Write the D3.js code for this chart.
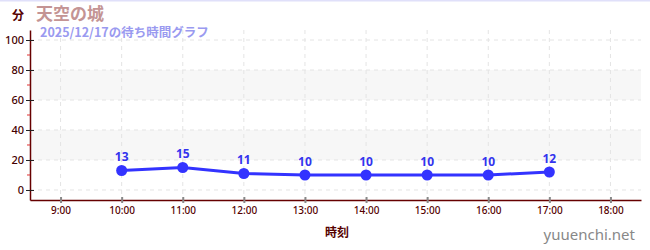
<!DOCTYPE html>
<head>
  <meta charset="utf-8">
  <style>
    body { margin: 0; background: #fff; }
    svg text { font-family: "Noto Sans CJK JP", "Noto Sans", sans-serif; }
    .grid line { stroke: #e4e4e4; stroke-dasharray: 4,4; }
  </style>
  <script src="https://d3js.org/d3.v7.min.js"></script>
</head>
<body>
<div class="home"></div>
<script>
    // wait times (minutes) by hour
    const hours = [10, 11, 12, 13, 14, 15, 16, 17];
    const waits = [13, 15, 11, 10, 10, 10, 10, 12];
    const xTicks = [9, 10, 11, 12, 13, 14, 15, 16, 17, 18];
    const yTicks = [0, 20, 40, 60, 80, 100];
    const yMinor = [10, 30, 50, 70, 90];
    const bands = [[20, 40], [60, 80]];

    const width = 650, height = 250;
    const plotLeft = 30, plotRight = 641, plotTop = 30, plotBottom = 200;

    const svg = d3.select(".home").append("svg")
        .attr("width", width)
        .attr("height", height);

    const x = d3.scaleLinear().domain([8.5, 18.5]).range([plotLeft, plotRight]);
    const y = d3.scaleLinear().domain([-6.67, 106.67]).range([plotBottom, plotTop]);

    // top border
    svg.append("line").attr("x1", 0).attr("x2", width).attr("y1", 0.5).attr("y2", 0.5)
        .attr("stroke", "#e0e0fa").attr("stroke-width", 2);

    //light bands
    svg.selectAll("rect.band").data(bands).enter().append("rect")
        .attr("class", "band")
        .attr("x", plotLeft).attr("width", plotRight - plotLeft)
        .attr("y", d => y(d[1])).attr("height", d => y(d[0]) - y(d[1]))
        .attr("fill", "#f7f7f7");

    const grid = svg.append("g").attr("class", "grid");
    grid.selectAll("line.h").data(yTicks).enter().append("line")
        .attr("x1", plotLeft).attr("x2", plotRight)
        .attr("y1", d => y(d)).attr("y2", d => y(d));
    grid.selectAll("line.v").data(xTicks).enter().append("line")
        .attr("x1", d => x(d)).attr("x2", d => x(d))
        .attr("y1", plotTop).attr("y2", plotBottom)
        .attr("stroke", "#ececec");

    // y axis
    const yAxis = svg.append("g")
        .attr("transform", `translate(${plotLeft},0)`)
        .call(d3.axisLeft(y).tickValues(yTicks).tickSize(4).tickSizeOuter(0));
    yAxis.select(".domain").attr("stroke", "#600").attr("stroke-width", 1.5);
    yAxis.selectAll(".tick line").attr("x2", 4).attr("x1", -4).attr("stroke", "#222");
    yAxis.selectAll(".tick text").attr("x", -6).attr("fill", "#400")
        .style("font-size", "11px").style("font-weight", "500")
        .style("font-family", "'Noto Sans', sans-serif");
    svg.selectAll("line.minor").data(yMinor).enter().append("line")
        .attr("x1", plotLeft - 3).attr("x2", plotLeft)
        .attr("y1", d => y(d)).attr("y2", d => y(d))
        .attr("stroke", "#e03030");

    // x axis
    const xAxis = svg.append("g")
        .attr("transform", `translate(0,${plotBottom})`)
        .call(d3.axisBottom(x).tickValues(xTicks).tickSize(3).tickSizeOuter(0)
            .tickFormat(d => d + ":00"));
    xAxis.select(".domain").attr("stroke", "#600").attr("stroke-width", 1.5);
    xAxis.selectAll(".tick line").attr("y1", -3).attr("y2", 3).attr("stroke", "#888").attr("stroke-width", 2);
    xAxis.selectAll(".tick text").attr("y", 7).attr("fill", "#500")
        .style("font-size", "10px").style("font-weight", "500")
        .style("font-family", "'Noto Sans', sans-serif");

    // line + points
    const data = hours.map((h, i) => ({h: h, v: waits[i]}));
    svg.append("path").datum(data)
        .attr("fill", "none").attr("stroke", "#3333ff").attr("stroke-width", 3)
        .attr("d", d3.line().x(d => x(d.h)).y(d => y(d.v)));
    svg.selectAll("circle.pt").data(data).enter().append("circle")
        .attr("cx", d => x(d.h)).attr("cy", d => y(d.v)).attr("r", 5.5)
        .attr("fill", "#3333ff");
    svg.selectAll("text.lbl").data(data).enter().append("text")
        .attr("x", d => x(d.h)).attr("y", d => y(d.v) - 9)
        .attr("text-anchor", "middle").attr("fill", "#3333ee")
        .style("font-size", "12px").style("font-weight", "bold")
        .style("font-family", "'Noto Sans', sans-serif")
        .text(d => d.v);

    // titles
    svg.append("text").attr("x", 12).attr("y", 20).attr("fill", "#500")
        .style("font-size", "12px").style("font-weight", "bold").text("分");
    svg.append("text").attr("x", 36).attr("y", 20).attr("fill", "#c49494")
        .style("font-size", "17px").style("font-weight", "bold").text("天空の城");
    svg.append("text").attr("x", 40).attr("y", 37).attr("fill", "#9a9af0")
        .style("font-size", "12.5px").style("font-weight", "bold").text("2025/12/17の待ち時間グラフ");
    svg.append("text").attr("x", 337).attr("y", 237).attr("text-anchor", "middle").attr("fill", "#500")
        .style("font-size", "12px").style("font-weight", "bold").text("時刻");
    svg.append("text").attr("x", 635).attr("y", 240).attr("text-anchor", "end").attr("fill", "#888")
        .style("font-size", "15px").style("font-family", "'Noto Sans', sans-serif").text("yuuenchi.net");
</script>
</body>
